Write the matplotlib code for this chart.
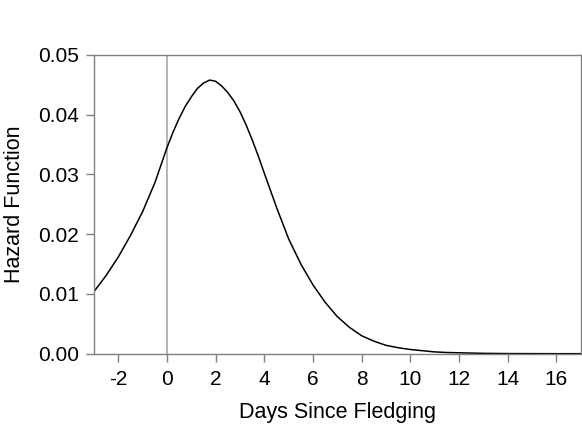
import matplotlib
matplotlib.use("Agg")
import matplotlib.pyplot as plt

# ================= DATA =================
days = [-3, -2.5, -2, -1.5, -1, -0.5, 0, 0.25, 0.5, 0.75, 1, 1.25, 1.5, 1.75,
        2, 2.25, 2.5, 2.75, 3, 3.25, 3.5, 3.75,
        4, 4.5, 5, 5.5, 6, 6.5, 7, 7.5, 8, 8.5, 9, 9.5, 10, 10.5, 11,
        11.5, 12, 13, 14, 15, 16, 17]
hazard = [0.0104, 0.0131, 0.0162, 0.0198, 0.0238, 0.0286, 0.0345, 0.0371,
          0.0394, 0.0414, 0.0430, 0.0444, 0.0453, 0.0458,
          0.0456, 0.0448, 0.0437, 0.0423, 0.0405, 0.0383, 0.0358, 0.0331,
          0.0302, 0.0245, 0.0192, 0.0150, 0.0115, 0.0086, 0.0062, 0.0044,
          0.0030, 0.0021, 0.0014, 0.0010, 0.0007, 0.0005, 0.0003,
          0.0002, 0.00015, 0.00006, 0.00002, 0.00001, 0.0, 0.0]

x_ticks = [-2, 0, 2, 4, 6, 8, 10, 12, 14, 16]
y_ticks = [0.00, 0.01, 0.02, 0.03, 0.04, 0.05]

# ================= PLOT =================
plt.rcParams["font.family"] = ["Liberation Sans", "DejaVu Sans"]

fig = plt.figure(figsize=(5.82, 4.28), dpi=100)
ax = fig.add_axes([0.1615, 0.1736, 0.8363, 0.6979])

ax.axvline(0, color="#a8a8a8", linewidth=1.2, zorder=1)
ax.plot(days, hazard, color="black", linewidth=1.1, zorder=2)

ax.set_xlim(-3, 17)
ax.set_ylim(0, 0.05)
ax.set_xticks(x_ticks)
ax.set_xticklabels([str(t) for t in x_ticks])
ax.set_yticks(y_ticks)
ax.set_yticklabels(["%.2f" % t for t in y_ticks])

for s in ax.spines.values():
    s.set_color("#808080")
    s.set_linewidth(1.0)

ax.tick_params(axis="both", colors="#808080", length=6, width=1.0,
               labelsize=15, labelcolor="black")
ax.tick_params(axis="x", pad=6)
ax.tick_params(axis="y", pad=5)

ax.set_xlabel("Days Since Fledging", fontsize=15.5, labelpad=9)
ax.set_ylabel("Hazard Function", fontsize=15.5, labelpad=9)

fig.savefig("out.png", dpi=100)
